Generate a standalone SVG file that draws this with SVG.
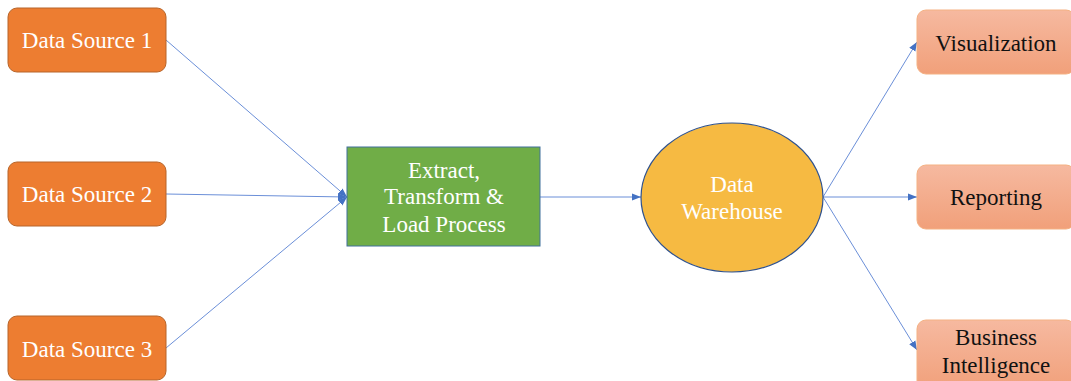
<svg xmlns="http://www.w3.org/2000/svg" width="1071" height="381" viewBox="0 0 1071 381">
<style>
.src rect{fill:#ED7D31;stroke:#B7652A;stroke-width:1}
.out rect{fill:url(#og);stroke:#F4B183;stroke-width:1}
text{font-family:'Liberation Serif','DejaVu Serif',serif;font-size:23px;text-anchor:middle}
.w{fill:#FFFFFF}
.b{fill:#111111}
.conn line{stroke:#6B8FD8;stroke-width:1;fill:none;marker-end:url(#ah)}
</style>
<defs>
<linearGradient id="og" x1="0" y1="0" x2="0" y2="1">
<stop offset="0" stop-color="#F6B9A0"/>
<stop offset="1" stop-color="#F1A07A"/>
</linearGradient>
<marker id="ah" viewBox="0 0 10 10" refX="10" refY="5" markerWidth="9" markerHeight="9" markerUnits="userSpaceOnUse" orient="auto">
<path d="M0,1 L10,5 L0,9 Z" fill="#4472C4"/>
</marker>
</defs>
<g class="conn" id="connectors">
<line x1="166" y1="40" x2="347" y2="197"/>
<line x1="166" y1="194" x2="347" y2="197"/>
<line x1="166" y1="348" x2="347" y2="197"/>
<line x1="540" y1="197" x2="641" y2="197"/>
<line x1="823" y1="197" x2="917" y2="42"/>
<line x1="823" y1="197" x2="917" y2="197"/>
<line x1="823" y1="197" x2="917" y2="350"/>
</g>
<g font-family="Liberation Serif, DejaVu Serif, serif">
<g id="ds1" class="src"><rect x="8" y="8" width="158" height="64" rx="9"/><text class="w" x="87" y="48">Data Source 1</text></g>
<g id="ds2" class="src"><rect x="8" y="162" width="158" height="64" rx="9"/><text class="w" x="87" y="202">Data Source 2</text></g>
<g id="ds3" class="src"><rect x="8" y="316" width="158" height="64" rx="9"/><text class="w" x="87" y="357">Data Source 3</text></g>
<g id="etl"><rect x="347" y="147" width="193" height="99" fill="#70AD47" stroke="#41719C" stroke-width="1"/>
<text class="w" x="444" y="178">Extract,</text>
<text class="w" x="444" y="204">Transform &amp;</text>
<text class="w" x="444" y="232">Load Process</text></g>
<g id="dw"><ellipse cx="732" cy="197.5" rx="91" ry="74.5" fill="#F6BA42" stroke="#2F528F" stroke-width="1.2"/>
<text class="w" x="732" y="192">Data</text>
<text class="w" x="732" y="219">Warehouse</text></g>
<g id="viz" class="out"><rect x="917" y="10" width="158" height="64" rx="9"/><text class="b" x="996" y="51">Visualization</text></g>
<g id="rep" class="out"><rect x="917" y="165" width="158" height="64" rx="9"/><text class="b" x="996" y="205">Reporting</text></g>
<g id="bi" class="out"><rect x="917" y="320" width="158" height="70" rx="9"/><text class="b" x="996" y="345">Business</text><text class="b" x="996" y="373">Intelligence</text></g>
</g>
</svg>
